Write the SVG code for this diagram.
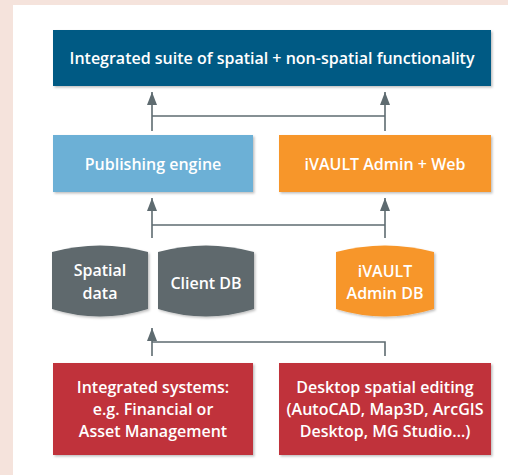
<svg xmlns="http://www.w3.org/2000/svg" width="508" height="475" viewBox="0 0 508 475">
<defs>
<marker id="ah" viewBox="0 0 13 10" refX="13" refY="5" markerWidth="13" markerHeight="10" markerUnits="userSpaceOnUse" orient="auto">
<path d="M13 5 L0 0 L0 10 Z" fill="#5e6b70"/>
</marker>
<filter id="sh" x="-5%" y="-5%" width="115%" height="120%">
<feDropShadow dx="1.5" dy="1.5" stdDeviation="1" flood-color="#000" flood-opacity="0.25"/>
</filter>
</defs>
<style>
.t{font-family:"Open Sans","Noto Sans",sans-serif;font-size:16px;font-weight:600;fill:#fff;text-anchor:middle;letter-spacing:0px}
.c{fill:none;stroke:#5e6b70;stroke-width:1.6}
</style>
<rect x="0" y="0" width="508" height="475" fill="#f5e3dc"/>
<rect x="13" y="5" width="495" height="470" fill="#fff"/>
<g id="top">
<rect x="53" y="30" width="438" height="56" fill="#005a84" filter="url(#sh)"/>
<text class="t" x="272" y="64">Integrated suite of spatial + non-spatial functionality</text>
</g>
<g id="publishing">
<rect x="53" y="135" width="200" height="57" fill="#6cb0d6" filter="url(#sh)"/>
<text class="t" x="153" y="170">Publishing engine</text>
</g>
<g id="admin-web">
<rect x="279" y="135" width="212" height="57" fill="#f7962a" filter="url(#sh)"/>
<text class="t" x="385" y="170">iVAULT Admin + Web</text>
</g>
<g id="spatial">
<path d="M52 252 Q100 239 148 252 L148 309 Q100 324 52 309 Z" fill="#5e696d" filter="url(#sh)"/>
<text class="t" x="100" y="276">Spatial</text>
<text class="t" x="100" y="299">data</text>
</g>
<g id="client">
<path d="M158 252 Q206 239 254 252 L254 309 Q206 324 158 309 Z" fill="#5e696d" filter="url(#sh)"/>
<text class="t" x="206" y="289">Client DB</text>
</g>
<g id="admin-db">
<path d="M336 252 Q385 239 434 252 L434 309 Q385 324 336 309 Z" fill="#f7962a" filter="url(#sh)"/>
<text class="t" x="385" y="277">iVAULT</text>
<text class="t" x="385" y="299">Admin DB</text>
</g>
<g id="integrated">
<rect x="53" y="363" width="200" height="92" fill="#c0303a" filter="url(#sh)"/>
<text class="t" x="153" y="393">Integrated systems:</text>
<text class="t" x="153" y="415">e.g. Financial or</text>
<text class="t" x="153" y="437">Asset Management</text>
</g>
<g id="desktop">
<rect x="279" y="363" width="212" height="92" fill="#c0303a" filter="url(#sh)"/>
<text class="t" x="385" y="393">Desktop spatial editing</text>
<text class="t" x="385" y="415">(AutoCAD, Map3D, ArcGIS</text>
<text class="t" x="385" y="437">Desktop, MG Studio…)</text>
</g>
<g id="connectors">
<path class="c" d="M152 131 L152 92" marker-end="url(#ah)"/>
<path class="c" d="M385 131 L385 92" marker-end="url(#ah)"/>
<path class="c" d="M152 116 L385 116"/>
<path class="c" d="M152 238 L152 198" marker-end="url(#ah)"/>
<path class="c" d="M385 238 L385 198" marker-end="url(#ah)"/>
<path class="c" d="M152 225 L385 225"/>
<path class="c" d="M152 356 L152 328" marker-end="url(#ah)"/>
<path class="c" d="M152 342 L385 342 L385 356"/>
</g>
</svg>
